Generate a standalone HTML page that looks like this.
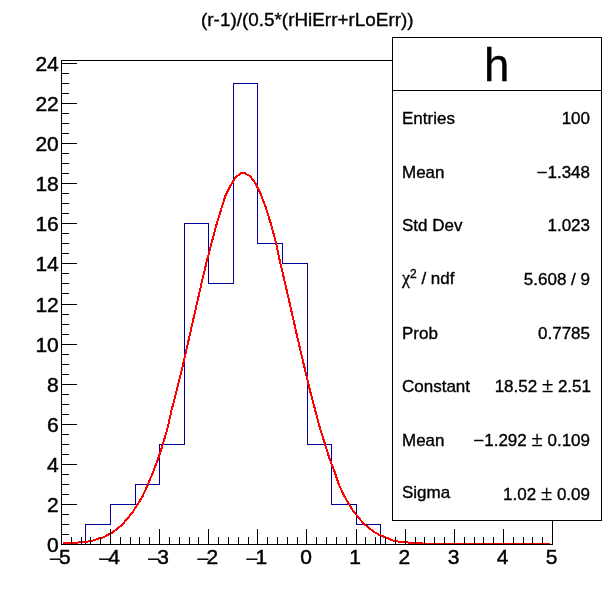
<!DOCTYPE html><html><head><meta charset="utf-8"><title>h</title><style>html,body{margin:0;padding:0;background:#fff}svg{display:block}text{font-family:"Liberation Sans",Arial,Helvetica,sans-serif;fill:#000;stroke:#000;stroke-width:0.35px}.ax{stroke-width:0.45px}</style></head><body>
<svg width="614" height="605" viewBox="0 0 614 605">
<rect width="614" height="605" fill="#fff"/>
<text x="307.3" y="26" font-size="18.9" text-anchor="middle">(r-1)/(0.5*(rHiErr+rLoErr))</text>
<path d="M61.5,544.5 L61.5,544.5 L85.5,544.5 L85.5,524.5 L110.5,524.5 L110.5,504.5 L135.5,504.5 L135.5,484.5 L159.5,484.5 L159.5,444.5 L184.5,444.5 L184.5,223.5 L208.5,223.5 L208.5,283.5 L233.5,283.5 L233.5,83.5 L257.5,83.5 L257.5,243.5 L282.5,243.5 L282.5,263.5 L307.5,263.5 L307.5,444.5 L331.5,444.5 L331.5,504.5 L356.5,504.5 L356.5,524.5 L380.5,524.5 L380.5,544.5 L405.5,544.5 L405.5,544.5 L429.5,544.5 L429.5,544.5 L454.5,544.5 L454.5,544.5 L478.5,544.5 L478.5,544.5 L503.5,544.5 L503.5,544.5 L528.5,544.5 L528.5,544.5 L552.5,544.5" fill="none" stroke="#000099" stroke-width="1" shape-rendering="crispEdges"/>
<path d="M63,543 L68,543 L73,543 L78,542 L83,542 L88,541 L93,540 L98,538 L103,537 L108,534 L112,532 L117,528 L122,524 L127,518 L132,512 L137,504 L142,496 L147,485 L152,473 L157,460 L162,445 L167,428 L171,410 L176,391 L181,371 L186,349 L191,327 L196,305 L201,283 L206,262 L211,243 L216,224 L221,208 L225,195 L230,185 L235,177 L240,173 L245,173 L250,176 L255,183 L260,193 L265,206 L270,222 L275,240 L279,259 L284,280 L289,302 L294,324 L299,346 L304,367 L309,388 L314,407 L319,426 L324,442 L329,458 L334,471 L338,483 L343,494 L348,503 L353,511 L358,517 L363,523 L368,527 L373,531 L378,534 L383,536 L388,538 L392,540 L397,541 L402,542 L407,542 L412,543 L417,543 L422,543 L427,544 L432,544 L437,544 L442,544 L446,544 L451,544 L456,544 L461,544 L466,544 L471,544 L476,544 L481,544 L486,544 L491,544 L496,544 L501,544 L505,544 L510,544 L515,544 L520,544 L525,544 L530,544 L535,544 L540,544 L545,544 L550,544" fill="none" stroke="#ff0000" stroke-width="2" stroke-linejoin="miter" shape-rendering="crispEdges" transform="translate(0.48,0.48)"/>
<rect x="61" y="60" width="492" height="1" fill="#000"/>
<rect x="61" y="544" width="492" height="1" fill="#000"/>
<rect x="61" y="60" width="1" height="485" fill="#000"/>
<rect x="552" y="60" width="1" height="485" fill="#000"/>
<rect x="61" y="529" width="1" height="16" fill="#000"/>
<rect x="71" y="537" width="1" height="8" fill="#000"/>
<rect x="81" y="537" width="1" height="8" fill="#000"/>
<rect x="90" y="537" width="1" height="8" fill="#000"/>
<rect x="100" y="537" width="1" height="8" fill="#000"/>
<rect x="110" y="529" width="1" height="16" fill="#000"/>
<rect x="120" y="537" width="1" height="8" fill="#000"/>
<rect x="130" y="537" width="1" height="8" fill="#000"/>
<rect x="139" y="537" width="1" height="8" fill="#000"/>
<rect x="149" y="537" width="1" height="8" fill="#000"/>
<rect x="159" y="529" width="1" height="16" fill="#000"/>
<rect x="169" y="537" width="1" height="8" fill="#000"/>
<rect x="179" y="537" width="1" height="8" fill="#000"/>
<rect x="189" y="537" width="1" height="8" fill="#000"/>
<rect x="198" y="537" width="1" height="8" fill="#000"/>
<rect x="208" y="529" width="1" height="16" fill="#000"/>
<rect x="218" y="537" width="1" height="8" fill="#000"/>
<rect x="228" y="537" width="1" height="8" fill="#000"/>
<rect x="238" y="537" width="1" height="8" fill="#000"/>
<rect x="248" y="537" width="1" height="8" fill="#000"/>
<rect x="257" y="529" width="1" height="16" fill="#000"/>
<rect x="267" y="537" width="1" height="8" fill="#000"/>
<rect x="277" y="537" width="1" height="8" fill="#000"/>
<rect x="287" y="537" width="1" height="8" fill="#000"/>
<rect x="297" y="537" width="1" height="8" fill="#000"/>
<rect x="306" y="529" width="1" height="16" fill="#000"/>
<rect x="316" y="537" width="1" height="8" fill="#000"/>
<rect x="326" y="537" width="1" height="8" fill="#000"/>
<rect x="336" y="537" width="1" height="8" fill="#000"/>
<rect x="346" y="537" width="1" height="8" fill="#000"/>
<rect x="356" y="529" width="1" height="16" fill="#000"/>
<rect x="365" y="537" width="1" height="8" fill="#000"/>
<rect x="375" y="537" width="1" height="8" fill="#000"/>
<rect x="385" y="537" width="1" height="8" fill="#000"/>
<rect x="395" y="537" width="1" height="8" fill="#000"/>
<rect x="405" y="529" width="1" height="16" fill="#000"/>
<rect x="415" y="537" width="1" height="8" fill="#000"/>
<rect x="424" y="537" width="1" height="8" fill="#000"/>
<rect x="434" y="537" width="1" height="8" fill="#000"/>
<rect x="444" y="537" width="1" height="8" fill="#000"/>
<rect x="454" y="529" width="1" height="16" fill="#000"/>
<rect x="464" y="537" width="1" height="8" fill="#000"/>
<rect x="474" y="537" width="1" height="8" fill="#000"/>
<rect x="483" y="537" width="1" height="8" fill="#000"/>
<rect x="493" y="537" width="1" height="8" fill="#000"/>
<rect x="503" y="529" width="1" height="16" fill="#000"/>
<rect x="513" y="537" width="1" height="8" fill="#000"/>
<rect x="523" y="537" width="1" height="8" fill="#000"/>
<rect x="532" y="537" width="1" height="8" fill="#000"/>
<rect x="542" y="537" width="1" height="8" fill="#000"/>
<rect x="552" y="529" width="1" height="16" fill="#000"/>
<text transform="translate(48.8,565.8) scale(1.08,1)" font-size="21" style="stroke-width:0.1px">−</text>
<text x="70.8" y="563.6" class="ax" font-size="21" text-anchor="end">5</text>
<text transform="translate(97.9,565.8) scale(1.08,1)" font-size="21" style="stroke-width:0.1px">−</text>
<text x="119.9" y="563.6" class="ax" font-size="21" text-anchor="end">4</text>
<text transform="translate(147.0,565.8) scale(1.08,1)" font-size="21" style="stroke-width:0.1px">−</text>
<text x="169.0" y="563.6" class="ax" font-size="21" text-anchor="end">3</text>
<text transform="translate(196.2,565.8) scale(1.08,1)" font-size="21" style="stroke-width:0.1px">−</text>
<text x="218.2" y="563.6" class="ax" font-size="21" text-anchor="end">2</text>
<text transform="translate(245.3,565.8) scale(1.08,1)" font-size="21" style="stroke-width:0.1px">−</text>
<text x="267.3" y="563.6" class="ax" font-size="21" text-anchor="end">1</text>
<text x="306.1" y="563.6" class="ax" font-size="21" text-anchor="middle">0</text>
<text x="355.2" y="563.6" class="ax" font-size="21" text-anchor="middle">1</text>
<text x="404.3" y="563.6" class="ax" font-size="21" text-anchor="middle">2</text>
<text x="453.5" y="563.6" class="ax" font-size="21" text-anchor="middle">3</text>
<text x="502.6" y="563.6" class="ax" font-size="21" text-anchor="middle">4</text>
<text x="551.7" y="563.6" class="ax" font-size="21" text-anchor="middle">5</text>
<rect x="61" y="544" width="16" height="1" fill="#000"/>
<rect x="61" y="534" width="8" height="1" fill="#000"/>
<rect x="61" y="524" width="8" height="1" fill="#000"/>
<rect x="61" y="514" width="8" height="1" fill="#000"/>
<rect x="61" y="504" width="16" height="1" fill="#000"/>
<rect x="61" y="494" width="8" height="1" fill="#000"/>
<rect x="61" y="484" width="8" height="1" fill="#000"/>
<rect x="61" y="474" width="8" height="1" fill="#000"/>
<rect x="61" y="464" width="16" height="1" fill="#000"/>
<rect x="61" y="454" width="8" height="1" fill="#000"/>
<rect x="61" y="444" width="8" height="1" fill="#000"/>
<rect x="61" y="434" width="8" height="1" fill="#000"/>
<rect x="61" y="424" width="16" height="1" fill="#000"/>
<rect x="61" y="414" width="8" height="1" fill="#000"/>
<rect x="61" y="404" width="8" height="1" fill="#000"/>
<rect x="61" y="394" width="8" height="1" fill="#000"/>
<rect x="61" y="384" width="16" height="1" fill="#000"/>
<rect x="61" y="374" width="8" height="1" fill="#000"/>
<rect x="61" y="364" width="8" height="1" fill="#000"/>
<rect x="61" y="354" width="8" height="1" fill="#000"/>
<rect x="61" y="344" width="16" height="1" fill="#000"/>
<rect x="61" y="334" width="8" height="1" fill="#000"/>
<rect x="61" y="324" width="8" height="1" fill="#000"/>
<rect x="61" y="314" width="8" height="1" fill="#000"/>
<rect x="61" y="304" width="16" height="1" fill="#000"/>
<rect x="61" y="293" width="8" height="1" fill="#000"/>
<rect x="61" y="283" width="8" height="1" fill="#000"/>
<rect x="61" y="273" width="8" height="1" fill="#000"/>
<rect x="61" y="263" width="16" height="1" fill="#000"/>
<rect x="61" y="253" width="8" height="1" fill="#000"/>
<rect x="61" y="243" width="8" height="1" fill="#000"/>
<rect x="61" y="233" width="8" height="1" fill="#000"/>
<rect x="61" y="223" width="16" height="1" fill="#000"/>
<rect x="61" y="213" width="8" height="1" fill="#000"/>
<rect x="61" y="203" width="8" height="1" fill="#000"/>
<rect x="61" y="193" width="8" height="1" fill="#000"/>
<rect x="61" y="183" width="16" height="1" fill="#000"/>
<rect x="61" y="173" width="8" height="1" fill="#000"/>
<rect x="61" y="163" width="8" height="1" fill="#000"/>
<rect x="61" y="153" width="8" height="1" fill="#000"/>
<rect x="61" y="143" width="16" height="1" fill="#000"/>
<rect x="61" y="133" width="8" height="1" fill="#000"/>
<rect x="61" y="123" width="8" height="1" fill="#000"/>
<rect x="61" y="113" width="8" height="1" fill="#000"/>
<rect x="61" y="103" width="16" height="1" fill="#000"/>
<rect x="61" y="93" width="8" height="1" fill="#000"/>
<rect x="61" y="83" width="8" height="1" fill="#000"/>
<rect x="61" y="73" width="8" height="1" fill="#000"/>
<rect x="61" y="63" width="16" height="1" fill="#000"/>
<text x="58.3" y="552.0" class="ax" font-size="21" text-anchor="end" letter-spacing="-0.3">0</text>
<text x="58.3" y="511.9" class="ax" font-size="21" text-anchor="end" letter-spacing="-0.3">2</text>
<text x="58.3" y="471.8" class="ax" font-size="21" text-anchor="end" letter-spacing="-0.3">4</text>
<text x="58.3" y="431.8" class="ax" font-size="21" text-anchor="end" letter-spacing="-0.3">6</text>
<text x="58.3" y="391.7" class="ax" font-size="21" text-anchor="end" letter-spacing="-0.3">8</text>
<text x="58.3" y="351.6" class="ax" font-size="21" text-anchor="end" letter-spacing="-0.3">10</text>
<text x="58.3" y="311.5" class="ax" font-size="21" text-anchor="end" letter-spacing="-0.3">12</text>
<text x="58.3" y="271.4" class="ax" font-size="21" text-anchor="end" letter-spacing="-0.3">14</text>
<text x="58.3" y="231.3" class="ax" font-size="21" text-anchor="end" letter-spacing="-0.3">16</text>
<text x="58.3" y="191.3" class="ax" font-size="21" text-anchor="end" letter-spacing="-0.3">18</text>
<text x="58.3" y="151.2" class="ax" font-size="21" text-anchor="end" letter-spacing="-0.3">20</text>
<text x="58.3" y="111.1" class="ax" font-size="21" text-anchor="end" letter-spacing="-0.3">22</text>
<text x="58.3" y="71.0" class="ax" font-size="21" text-anchor="end" letter-spacing="-0.3">24</text>
<rect x="392" y="37" width="210" height="484" fill="#fff"/>
<rect x="392" y="37" width="210" height="1" fill="#000"/>
<rect x="392" y="520" width="210" height="1" fill="#000"/>
<rect x="392" y="37" width="1" height="484" fill="#000"/>
<rect x="601" y="37" width="1" height="484" fill="#000"/>
<rect x="392" y="90" width="210" height="1" fill="#000"/>
<text x="496.6" y="81" font-size="45.6" text-anchor="middle">h</text>
<text x="402" y="124.0" font-size="17">Entries</text>
<text x="590" y="124.0" font-size="17" text-anchor="end">100</text>
<text x="402" y="177.7" font-size="17">Mean</text>
<text x="590" y="177.7" font-size="17" text-anchor="end"><tspan dy="1.2" font-family="Liberation Serif,serif" font-size="19.5">−</tspan><tspan dy="-1.2">1.348</tspan></text>
<text x="402" y="231.3" font-size="17">Std Dev</text>
<text x="590" y="231.3" font-size="17" text-anchor="end">1.023</text>
<text x="402" y="283.8" font-size="17"><tspan font-family="Liberation Serif,serif" font-size="18">χ</tspan><tspan dy="-5.5" font-size="12">2</tspan><tspan dy="5.5"> / ndf</tspan></text>
<text x="590" y="284.9" font-size="17" text-anchor="end">5.608 / 9</text>
<text x="402" y="338.6" font-size="17">Prob</text>
<text x="590" y="338.6" font-size="17" text-anchor="end">0.7785</text>
<text x="402" y="392.2" font-size="17">Constant</text>
<text x="591" y="392.2" font-size="17" text-anchor="end">18.52 <tspan font-family="Liberation Serif,serif" font-size="20.5">±</tspan> 2.51</text>
<text x="402" y="445.9" font-size="17">Mean</text>
<text x="590" y="445.9" font-size="17" text-anchor="end"><tspan dy="1.2" font-family="Liberation Serif,serif" font-size="19.5">−</tspan><tspan dy="-1.2">1.292 <tspan font-family="Liberation Serif,serif" font-size="20.5">±</tspan> 0.109</tspan></text>
<text x="402" y="497.9" font-size="17">Sigma</text>
<text x="590" y="499.6" font-size="17" text-anchor="end">1.02 <tspan font-family="Liberation Serif,serif" font-size="20.5">±</tspan> 0.09</text>
</svg></body></html>
